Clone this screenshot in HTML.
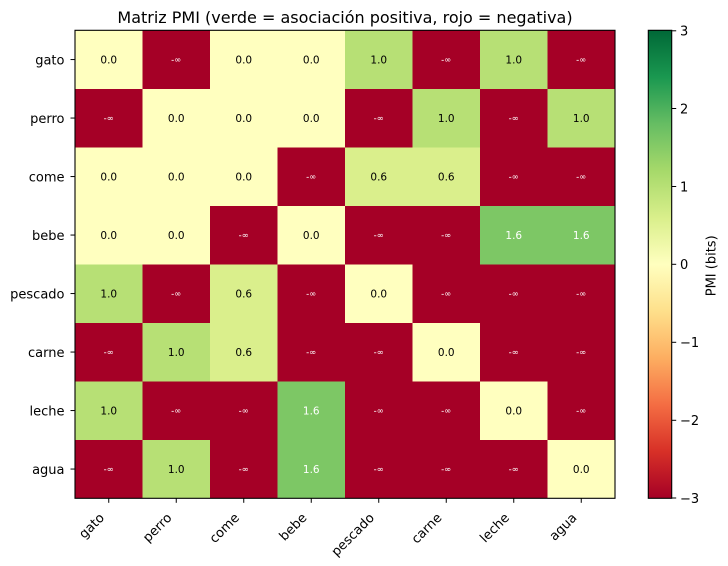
<!DOCTYPE html>
<html>
<head>
<meta charset="utf-8">
<style>
html,body{margin:0;padding:0;background:#ffffff;}
svg{display:block;}
text{font-family:"DejaVu Sans","Liberation Sans",sans-serif;}
</style>
</head>
<body>
<svg width="728" height="566" viewBox="0 0 728 566" xmlns="http://www.w3.org/2000/svg">
<defs>
<linearGradient id="cb" x1="0" y1="1" x2="0" y2="0">
<stop offset="0" stop-color="#a50026"/>
<stop offset="0.1" stop-color="#d73027"/>
<stop offset="0.2" stop-color="#f46d43"/>
<stop offset="0.3" stop-color="#fdae61"/>
<stop offset="0.4" stop-color="#fee08b"/>
<stop offset="0.5" stop-color="#ffffbf"/>
<stop offset="0.6" stop-color="#d9ef8b"/>
<stop offset="0.7" stop-color="#a6d96a"/>
<stop offset="0.8" stop-color="#66bd63"/>
<stop offset="0.9" stop-color="#1a9850"/>
<stop offset="1" stop-color="#006837"/>
</linearGradient>
</defs>
<rect x="0" y="0" width="728" height="566" fill="#ffffff"/>

<!-- title -->
<text x="345" y="23" font-size="16" text-anchor="middle" fill="#000">Matriz PMI (verde = asociación positiva, rojo = negativa)</text>

<!-- heatmap cells -->
<g shape-rendering="crispEdges">
<!-- row 0 gato -->
<rect x="75" y="30.3" width="67.5" height="58.5" fill="#ffffbf"/>
<rect x="142.5" y="30.3" width="67.5" height="58.5" fill="#a50026"/>
<rect x="210" y="30.3" width="67.5" height="58.5" fill="#ffffbf"/>
<rect x="277.5" y="30.3" width="67.5" height="58.5" fill="#ffffbf"/>
<rect x="345" y="30.3" width="67.5" height="58.5" fill="#b7e075"/>
<rect x="412.5" y="30.3" width="67.5" height="58.5" fill="#a50026"/>
<rect x="480" y="30.3" width="67.5" height="58.5" fill="#b7e075"/>
<rect x="547.5" y="30.3" width="67.5" height="58.5" fill="#a50026"/>
<!-- row 1 perro -->
<rect x="75" y="88.8" width="67.5" height="58.5" fill="#a50026"/>
<rect x="142.5" y="88.8" width="67.5" height="58.5" fill="#ffffbf"/>
<rect x="210" y="88.8" width="67.5" height="58.5" fill="#ffffbf"/>
<rect x="277.5" y="88.8" width="67.5" height="58.5" fill="#ffffbf"/>
<rect x="345" y="88.8" width="67.5" height="58.5" fill="#a50026"/>
<rect x="412.5" y="88.8" width="67.5" height="58.5" fill="#b7e075"/>
<rect x="480" y="88.8" width="67.5" height="58.5" fill="#a50026"/>
<rect x="547.5" y="88.8" width="67.5" height="58.5" fill="#b7e075"/>
<!-- row 2 come -->
<rect x="75" y="147.3" width="67.5" height="58.5" fill="#ffffbf"/>
<rect x="142.5" y="147.3" width="67.5" height="58.5" fill="#ffffbf"/>
<rect x="210" y="147.3" width="67.5" height="58.5" fill="#ffffbf"/>
<rect x="277.5" y="147.3" width="67.5" height="58.5" fill="#a50026"/>
<rect x="345" y="147.3" width="67.5" height="58.5" fill="#daef8c"/>
<rect x="412.5" y="147.3" width="67.5" height="58.5" fill="#daef8c"/>
<rect x="480" y="147.3" width="67.5" height="58.5" fill="#a50026"/>
<rect x="547.5" y="147.3" width="67.5" height="58.5" fill="#a50026"/>
<!-- row 3 bebe -->
<rect x="75" y="205.8" width="67.5" height="58.5" fill="#ffffbf"/>
<rect x="142.5" y="205.8" width="67.5" height="58.5" fill="#ffffbf"/>
<rect x="210" y="205.8" width="67.5" height="58.5" fill="#a50026"/>
<rect x="277.5" y="205.8" width="67.5" height="58.5" fill="#ffffbf"/>
<rect x="345" y="205.8" width="67.5" height="58.5" fill="#a50026"/>
<rect x="412.5" y="205.8" width="67.5" height="58.5" fill="#a50026"/>
<rect x="480" y="205.8" width="67.5" height="58.5" fill="#7dc765"/>
<rect x="547.5" y="205.8" width="67.5" height="58.5" fill="#7dc765"/>
<!-- row 4 pescado -->
<rect x="75" y="264.3" width="67.5" height="58.5" fill="#b7e075"/>
<rect x="142.5" y="264.3" width="67.5" height="58.5" fill="#a50026"/>
<rect x="210" y="264.3" width="67.5" height="58.5" fill="#daef8c"/>
<rect x="277.5" y="264.3" width="67.5" height="58.5" fill="#a50026"/>
<rect x="345" y="264.3" width="67.5" height="58.5" fill="#ffffbf"/>
<rect x="412.5" y="264.3" width="67.5" height="58.5" fill="#a50026"/>
<rect x="480" y="264.3" width="67.5" height="58.5" fill="#a50026"/>
<rect x="547.5" y="264.3" width="67.5" height="58.5" fill="#a50026"/>
<!-- row 5 carne -->
<rect x="75" y="322.8" width="67.5" height="58.5" fill="#a50026"/>
<rect x="142.5" y="322.8" width="67.5" height="58.5" fill="#b7e075"/>
<rect x="210" y="322.8" width="67.5" height="58.5" fill="#daef8c"/>
<rect x="277.5" y="322.8" width="67.5" height="58.5" fill="#a50026"/>
<rect x="345" y="322.8" width="67.5" height="58.5" fill="#a50026"/>
<rect x="412.5" y="322.8" width="67.5" height="58.5" fill="#ffffbf"/>
<rect x="480" y="322.8" width="67.5" height="58.5" fill="#a50026"/>
<rect x="547.5" y="322.8" width="67.5" height="58.5" fill="#a50026"/>
<!-- row 6 leche -->
<rect x="75" y="381.3" width="67.5" height="58.5" fill="#b7e075"/>
<rect x="142.5" y="381.3" width="67.5" height="58.5" fill="#a50026"/>
<rect x="210" y="381.3" width="67.5" height="58.5" fill="#a50026"/>
<rect x="277.5" y="381.3" width="67.5" height="58.5" fill="#7dc765"/>
<rect x="345" y="381.3" width="67.5" height="58.5" fill="#a50026"/>
<rect x="412.5" y="381.3" width="67.5" height="58.5" fill="#a50026"/>
<rect x="480" y="381.3" width="67.5" height="58.5" fill="#ffffbf"/>
<rect x="547.5" y="381.3" width="67.5" height="58.5" fill="#a50026"/>
<!-- row 7 agua -->
<rect x="75" y="439.8" width="67.5" height="58.5" fill="#a50026"/>
<rect x="142.5" y="439.8" width="67.5" height="58.5" fill="#b7e075"/>
<rect x="210" y="439.8" width="67.5" height="58.5" fill="#a50026"/>
<rect x="277.5" y="439.8" width="67.5" height="58.5" fill="#7dc765"/>
<rect x="345" y="439.8" width="67.5" height="58.5" fill="#a50026"/>
<rect x="412.5" y="439.8" width="67.5" height="58.5" fill="#a50026"/>
<rect x="480" y="439.8" width="67.5" height="58.5" fill="#a50026"/>
<rect x="547.5" y="439.8" width="67.5" height="58.5" fill="#ffffbf"/>
</g>

<!-- cell annotations -->
<g text-anchor="middle">
<g font-size="10.5" fill="#000">
<text x="108.75" y="63.3">0.0</text>
<text x="243.75" y="63.3">0.0</text>
<text x="311.25" y="63.3">0.0</text>
<text x="378.75" y="63.3">1.0</text>
<text x="513.75" y="63.3">1.0</text>

<text x="176.25" y="121.8">0.0</text>
<text x="243.75" y="121.8">0.0</text>
<text x="311.25" y="121.8">0.0</text>
<text x="446.25" y="121.8">1.0</text>
<text x="581.25" y="121.8">1.0</text>

<text x="108.75" y="180.3">0.0</text>
<text x="176.25" y="180.3">0.0</text>
<text x="243.75" y="180.3">0.0</text>
<text x="378.75" y="180.3">0.6</text>
<text x="446.25" y="180.3">0.6</text>

<text x="108.75" y="238.8">0.0</text>
<text x="176.25" y="238.8">0.0</text>
<text x="311.25" y="238.8">0.0</text>

<text x="108.75" y="297.3">1.0</text>
<text x="243.75" y="297.3">0.6</text>
<text x="378.75" y="297.3">0.0</text>

<text x="176.25" y="355.8">1.0</text>
<text x="243.75" y="355.8">0.6</text>
<text x="446.25" y="355.8">0.0</text>

<text x="108.75" y="414.3">1.0</text>
<text x="513.75" y="414.3">0.0</text>

<text x="176.25" y="472.8">1.0</text>
<text x="581.25" y="472.8">0.0</text>
</g>
<g font-size="10.5" fill="#ffffff">
<text x="513.75" y="238.8">1.6</text>
<text x="581.25" y="238.8">1.6</text>
<text x="311.25" y="414.3">1.6</text>
<text x="311.25" y="472.8">1.6</text>
</g>
<g font-size="8.5" fill="#ffffff">
<text x="176.25" y="62.5">-∞</text>
<text x="446.25" y="62.5">-∞</text>
<text x="581.25" y="62.5">-∞</text>

<text x="108.75" y="121">-∞</text>
<text x="378.75" y="121">-∞</text>
<text x="513.75" y="121">-∞</text>

<text x="311.25" y="179.5">-∞</text>
<text x="513.75" y="179.5">-∞</text>
<text x="581.25" y="179.5">-∞</text>

<text x="243.75" y="238">-∞</text>
<text x="378.75" y="238">-∞</text>
<text x="446.25" y="238">-∞</text>

<text x="176.25" y="296.5">-∞</text>
<text x="311.25" y="296.5">-∞</text>
<text x="446.25" y="296.5">-∞</text>
<text x="513.75" y="296.5">-∞</text>
<text x="581.25" y="296.5">-∞</text>

<text x="108.75" y="355">-∞</text>
<text x="311.25" y="355">-∞</text>
<text x="378.75" y="355">-∞</text>
<text x="513.75" y="355">-∞</text>
<text x="581.25" y="355">-∞</text>

<text x="176.25" y="413.5">-∞</text>
<text x="243.75" y="413.5">-∞</text>
<text x="378.75" y="413.5">-∞</text>
<text x="446.25" y="413.5">-∞</text>
<text x="581.25" y="413.5">-∞</text>

<text x="108.75" y="472">-∞</text>
<text x="243.75" y="472">-∞</text>
<text x="378.75" y="472">-∞</text>
<text x="446.25" y="472">-∞</text>
<text x="513.75" y="472">-∞</text>
</g>
</g>

<!-- axes frame -->
<rect x="75" y="30.3" width="540" height="468" fill="none" stroke="#000" stroke-width="1.1"/>

<!-- y ticks -->
<g stroke="#000" stroke-width="1">
<line x1="70.5" y1="59.55" x2="75" y2="59.55"/>
<line x1="70.5" y1="118.05" x2="75" y2="118.05"/>
<line x1="70.5" y1="176.55" x2="75" y2="176.55"/>
<line x1="70.5" y1="235.05" x2="75" y2="235.05"/>
<line x1="70.5" y1="293.55" x2="75" y2="293.55"/>
<line x1="70.5" y1="352.05" x2="75" y2="352.05"/>
<line x1="70.5" y1="410.55" x2="75" y2="410.55"/>
<line x1="70.5" y1="469.05" x2="75" y2="469.05"/>
</g>
<g font-size="13" text-anchor="end" fill="#000">
<text x="64.5" y="64.3">gato</text>
<text x="64.5" y="122.8">perro</text>
<text x="64.5" y="181.3">come</text>
<text x="64.5" y="239.8">bebe</text>
<text x="64.5" y="298.3">pescado</text>
<text x="64.5" y="356.8">carne</text>
<text x="64.5" y="415.3">leche</text>
<text x="64.5" y="473.8">agua</text>
</g>

<!-- x ticks -->
<g stroke="#000" stroke-width="1">
<line x1="108.75" y1="498.3" x2="108.75" y2="502.8"/>
<line x1="176.25" y1="498.3" x2="176.25" y2="502.8"/>
<line x1="243.75" y1="498.3" x2="243.75" y2="502.8"/>
<line x1="311.25" y1="498.3" x2="311.25" y2="502.8"/>
<line x1="378.75" y1="498.3" x2="378.75" y2="502.8"/>
<line x1="446.25" y1="498.3" x2="446.25" y2="502.8"/>
<line x1="513.75" y1="498.3" x2="513.75" y2="502.8"/>
<line x1="581.25" y1="498.3" x2="581.25" y2="502.8"/>
</g>
<g font-size="13" text-anchor="end" fill="#000">
<text transform="translate(105,518.5) rotate(-45)">gato</text>
<text transform="translate(172.5,518.5) rotate(-45)">perro</text>
<text transform="translate(240,518.5) rotate(-45)">come</text>
<text transform="translate(307.5,518.5) rotate(-45)">bebe</text>
<text transform="translate(375,518.5) rotate(-45)">pescado</text>
<text transform="translate(442.5,518.5) rotate(-45)">carne</text>
<text transform="translate(510,518.5) rotate(-45)">leche</text>
<text transform="translate(577.5,518.5) rotate(-45)">agua</text>
</g>

<!-- colorbar -->
<rect x="648.3" y="30.3" width="23.4" height="468" fill="url(#cb)" stroke="#000" stroke-width="1.1"/>
<g stroke="#000" stroke-width="1">
<line x1="671.7" y1="30.8" x2="676.2" y2="30.8"/>
<line x1="671.7" y1="108.5" x2="676.2" y2="108.5"/>
<line x1="671.7" y1="186.5" x2="676.2" y2="186.5"/>
<line x1="671.7" y1="264.3" x2="676.2" y2="264.3"/>
<line x1="671.7" y1="342.3" x2="676.2" y2="342.3"/>
<line x1="671.7" y1="420.3" x2="676.2" y2="420.3"/>
<line x1="671.7" y1="498" x2="676.2" y2="498"/>
</g>
<g font-size="13" fill="#000">
<text x="680" y="35.6">3</text>
<text x="680" y="113.3">2</text>
<text x="680" y="191.3">1</text>
<text x="680" y="269.1">0</text>
<text x="680" y="347.1">−1</text>
<text x="680" y="425.1">−2</text>
<text x="680" y="502.8">−3</text>
</g>
<text transform="translate(715.5,265.8) rotate(-90)" font-size="13" text-anchor="middle" fill="#000">PMI (bits)</text>
</svg>
</body>
</html>
